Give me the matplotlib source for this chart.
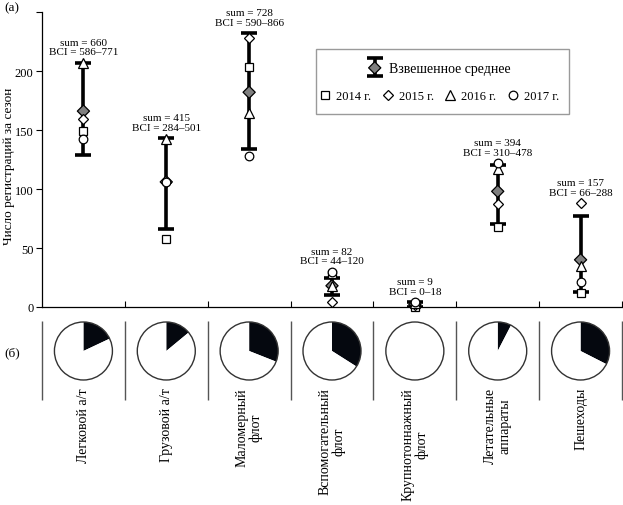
import numpy as np
import matplotlib
matplotlib.use("Agg")
import matplotlib.pyplot as plt
from matplotlib.patches import Rectangle, Circle
from matplotlib.legend_handler import HandlerTuple, HandlerErrorbar
from matplotlib.container import ErrorbarContainer
import matplotlib.transforms as mtrans

plt.rcParams['font.family'] = ['Liberation Serif', 'DejaVu Serif']

categories = ['Легковой а/т', 'Грузовой а/т', 'Маломерный\nфлот',
              'Вспомогательный\nфлот', 'Крупнотоннажный\nфлот',
              'Летательные\nаппараты', 'Пешеходы']
y2014 = [149, 58, 203, 28, 0, 68, 12]
y2015 = [159, 106, 228, 4, 2, 87, 88]
y2016 = [207, 142, 164, 18, 3, 117, 35]
y2017 = [142, 106, 128, 30, 4, 122, 21]
wmean = [166, 106, 182, 18, 2, 98, 40]
err_lo = [129, 66, 134, 10, 0, 70, 13]
err_hi = [207, 143, 232, 25, 4, 120, 77]
sums = [660, 415, 728, 82, 9, 394, 157]
bci = ['586–771', '284–501', '590–866', '44–120', '0–18', '310–478', '66–288']
black_share = [0.18, 0.14, 0.31, 0.34, 0.0, 0.076, 0.325]
mean_face = ['#7f7f7f', 'white', '#7f7f7f', '#7f7f7f', '#7f7f7f', '#7f7f7f', '#7f7f7f']
yticks = [0, 50, 100, 150, 200, 250]
ytick_labels = ['0', '50', '100', '150', '200', '']

W, H = 623, 506
fig = plt.figure(figsize=(W / 100, H / 100), dpi=100)

# ---- top panel ----
L, R = 42, 622
ax = fig.add_axes([L / W, 1 - 308 / H, (R - L) / W, (308 - 13) / H])
x = np.arange(len(categories))
m = np.array(wmean, float)
lo = np.array(err_lo, float)
hi = np.array(err_hi, float)

eb = ax.errorbar(x, m, yerr=[m - lo, hi - m], fmt='none', ecolor='black',
                 elinewidth=2.6, capsize=5.5, capthick=2.6, zorder=2)
sc = ax.scatter(x, m, marker='D', s=6.2 ** 2, c=mean_face, edgecolors='black',
                linewidths=0.9, zorder=3, clip_on=False)
mk = dict(ls='none', mfc='white', mec='black', mew=0.9, zorder=4, clip_on=False)
l14, = ax.plot(x, y2014, marker='s', ms=5.6, label='2014 г.', **mk)
l15, = ax.plot(x, y2015, marker='D', ms=4.8, label='2015 г.', **mk)
l16, = ax.plot(x, y2016, marker='^', ms=6.8, label='2016 г.', **mk)
l17, = ax.plot(x, y2017, marker='o', ms=6.2, label='2017 г.', **mk)

tops = np.max(np.vstack([hi, y2014, y2015, y2016, y2017]), axis=0)
for i in range(len(categories)):
    ax.annotate(f'sum = {sums[i]}\nBCI = {bci[i]}', (x[i], tops[i]),
                xytext=(0, 4.5), textcoords='offset points', ha='center',
                va='bottom', fontsize=8, linespacing=1.1)

ax.set_xlim(-0.5, len(categories) - 0.5)
ax.set_ylim(0, 250)
ax.set_yticks(yticks)
ax.set_yticklabels(ytick_labels)
ax.set_xticks(np.arange(len(categories)) + 0.5)
ax.set_xticklabels([])
ax.tick_params(axis='x', direction='in', length=4, width=0.8)
ax.tick_params(axis='y', direction='out', length=4, width=0.8, labelsize=9, pad=2)
for s in ['top', 'right']:
    ax.spines[s].set_visible(False)
for s in ['left', 'bottom']:
    ax.spines[s].set_linewidth(0.9)
fig.text(9 / W, 1 - 166 / H, 'Число регистраций за сезон', fontsize=9.5,
         rotation=90, ha='center', va='center')

# legend
fig.add_artist(Rectangle((316 / W, 1 - 115 / H), (569 - 316) / W, 65 / H,
                         transform=fig.transFigure, fill=False,
                         edgecolor='#9a9a9a', lw=1.0))
fig.legend(handles=[(eb, sc)], labels=['Взвешенное среднее'], loc='center',
           bbox_to_anchor=(439 / W, 1 - 69 / H), frameon=False, fontsize=10,
           handlelength=1.0, handletextpad=0.5, borderpad=0,
           handler_map={tuple: HandlerTuple(ndivide=1),
                        ErrorbarContainer: HandlerErrorbar(yerr_size=0.65)})
fig.legend(handles=[l14, l15, l16, l17], loc='center', ncol=4,
           bbox_to_anchor=(439 / W, 1 - 97 / H), frameon=False, fontsize=9,
           handlelength=1.0, handletextpad=0.4, columnspacing=0.8, borderpad=0)

fig.text(4 / W, 1 - 8 / H, '(а)', fontsize=9.5, va='center', ha='left')
fig.text(4 / W, 1 - 353 / H, '(б)', fontsize=9.5, va='center', ha='left')

# ---- bottom panel ----
btop, bbot = 322, 401
axb = fig.add_axes([L / W, 1 - bbot / H, (R - L) / W, (bbot - btop) / H])
ppu = (R - L) / len(categories)
ytop = (bbot - btop) / ppu
cy = (bbot - 352) / ppu
rad = 29 / ppu
for i, f in enumerate(black_share):
    axb.pie([f, 1 - f], colors=['#05080f', 'white'], startangle=90,
            counterclock=False, center=(x[i], cy), radius=rad,
            wedgeprops=dict(edgecolor='none', linewidth=0), frame=True)
    axb.add_patch(Circle((x[i], cy), rad, fill=False, edgecolor='#333333', lw=1.0))
bounds = np.arange(len(categories) + 1) - 0.5
axb.vlines(bounds, 0, ytop, colors='#555555', lw=1.0, clip_on=False)
trans = mtrans.blended_transform_factory(axb.transData, axb.transAxes)
for i, lab in enumerate(categories):
    axb.text(x[i], (bbot - 388) / (bbot - btop), lab, transform=trans,
             rotation=90, ha='center', va='top', multialignment='center',
             fontsize=10, linespacing=1.1, clip_on=False)
axb.set_xlim(-0.5, len(categories) - 0.5)
axb.set_ylim(0, ytop)
axb.set_aspect('auto')
axb.axis('off')

fig.savefig('out.png', dpi=100)
